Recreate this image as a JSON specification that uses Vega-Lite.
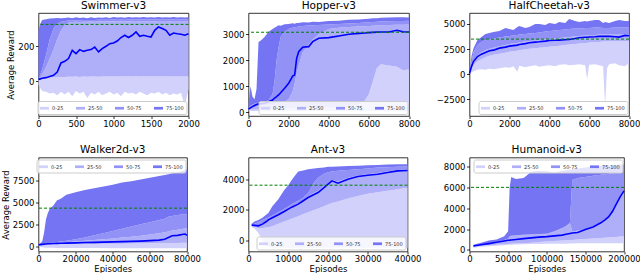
{
"$schema": "https://vega.github.io/schema/vega-lite/v6.json",
"background": "white",
"padding": {"left": 0.5, "top": 0, "right": 0, "bottom": 0},
"config": {
 "font": "DejaVu Sans",
 "view": {"stroke": "black", "strokeWidth": 0.8},
 "axis": {"domain": false, "grid": false, "tickColor": "black", "tickWidth": 0.8, "labelFont": "DejaVu Sans", "labelFontSize": 8.5, "labelColor": "black", "labelFlush": false, "labelOverlap": false, "titleFont": "DejaVu Sans", "titleFontSize": 8.5, "titleFontWeight": "normal", "titleColor": "black"},
 "axisX": {"tickSize": 2.5, "labelPadding": 0.5, "titlePadding": 1},
 "axisY": {"tickSize": 3, "labelPadding": 1.5, "titlePadding": 2},
 "title": {"font": "DejaVu Sans", "fontSize": 10.5, "fontWeight": "normal", "color": "black", "offset": 2},
 "legend": {"labelFont": "DejaVu Sans", "labelFontSize": 5, "labelColor": "#333333", "symbolType": "M-1,-0.3H1V0.3H-1Z", "symbolSize": 81, "symbolStrokeWidth": 0, "symbolOpacity": 1, "columnPadding": 12, "padding": 2.5, "offset": 2, "fillColor": "rgba(255,255,255,0.8)", "strokeColor": "#cccccc", "cornerRadius": 2, "labelOffset": 3, "direction": "horizontal"}
},
"datasets": {
 "targets": [{"env": "Swimmer-v3", "target": 325}, {"env": "Hopper-v3", "target": 3080}, {"env": "HalfCheetah-v3", "target": 3500}, {"env": "Walker2d-v3", "target": 4390}, {"env": "Ant-v3", "target": 3610}, {"env": "Humanoid-v3", "target": 6000}],
 "swimmer": [
  {"x":0,"b0":-20,"b1":10,"b2":12,"b3":15,"b4":290,"m":11},
  {"x":25,"b0":-40,"b1":15,"b2":25,"b3":40,"b4":330,"m":14},
  {"x":50,"b0":-55,"b1":18,"b2":40,"b3":70,"b4":350,"m":17},
  {"x":100,"b0":-60,"b1":20,"b2":80,"b3":150,"b4":355,"m":21},
  {"x":150,"b0":-70,"b1":22,"b2":130,"b3":240,"b4":358,"m":28},
  {"x":200,"b0":-65,"b1":22,"b2":180,"b3":300,"b4":360,"m":34},
  {"x":250,"b0":-80,"b1":24,"b2":240,"b3":330,"b4":362,"m":53},
  {"x":300,"b0":-60,"b1":25,"b2":290,"b3":340,"b4":360,"m":105},
  {"x":350,"b0":-75,"b1":25,"b2":320,"b3":345,"b4":362,"m":114},
  {"x":400,"b0":-60,"b1":26,"b2":335,"b3":347,"b4":365,"m":130},
  {"x":450,"b0":-85,"b1":26,"b2":338,"b3":348,"b4":360,"m":177},
  {"x":500,"b0":-55,"b1":27,"b2":340,"b3":349,"b4":366,"m":158},
  {"x":550,"b0":-70,"b1":25,"b2":338,"b3":348,"b4":362,"m":181},
  {"x":600,"b0":-60,"b1":28,"b2":340,"b3":350,"b4":364,"m":171},
  {"x":650,"b0":-95,"b1":26,"b2":340,"b3":350,"b4":360,"m":177},
  {"x":700,"b0":-65,"b1":28,"b2":341,"b3":350,"b4":366,"m":181},
  {"x":750,"b0":-75,"b1":27,"b2":340,"b3":350,"b4":362,"m":196},
  {"x":800,"b0":-60,"b1":26,"b2":342,"b3":352,"b4":365,"m":168},
  {"x":850,"b0":-80,"b1":28,"b2":341,"b3":351,"b4":363,"m":187},
  {"x":900,"b0":-70,"b1":27,"b2":342,"b3":352,"b4":366,"m":200},
  {"x":950,"b0":-60,"b1":28,"b2":341,"b3":351,"b4":362,"m":215},
  {"x":1000,"b0":-75,"b1":27,"b2":343,"b3":353,"b4":367,"m":219},
  {"x":1050,"b0":-65,"b1":28,"b2":342,"b3":352,"b4":364,"m":230},
  {"x":1100,"b0":-85,"b1":29,"b2":343,"b3":353,"b4":366,"m":250},
  {"x":1150,"b0":-60,"b1":28,"b2":342,"b3":352,"b4":363,"m":263},
  {"x":1200,"b0":-70,"b1":29,"b2":343,"b3":353,"b4":367,"m":250},
  {"x":1250,"b0":-65,"b1":28,"b2":343,"b3":353,"b4":365,"m":263},
  {"x":1300,"b0":-75,"b1":29,"b2":344,"b3":354,"b4":366,"m":282},
  {"x":1350,"b0":-60,"b1":28,"b2":343,"b3":353,"b4":364,"m":257},
  {"x":1400,"b0":-70,"b1":29,"b2":344,"b3":354,"b4":367,"m":263},
  {"x":1450,"b0":-80,"b1":28,"b2":343,"b3":353,"b4":365,"m":257},
  {"x":1500,"b0":-65,"b1":29,"b2":344,"b3":354,"b4":366,"m":253},
  {"x":1550,"b0":-70,"b1":28,"b2":343,"b3":353,"b4":364,"m":291},
  {"x":1600,"b0":-60,"b1":29,"b2":344,"b3":354,"b4":367,"m":310},
  {"x":1650,"b0":-75,"b1":28,"b2":344,"b3":354,"b4":365,"m":301},
  {"x":1700,"b0":-65,"b1":29,"b2":344,"b3":354,"b4":366,"m":291},
  {"x":1750,"b0":-80,"b1":28,"b2":343,"b3":353,"b4":364,"m":263},
  {"x":1800,"b0":-70,"b1":29,"b2":344,"b3":354,"b4":367,"m":276},
  {"x":1850,"b0":-75,"b1":28,"b2":344,"b3":354,"b4":365,"m":272},
  {"x":1900,"b0":-65,"b1":29,"b2":344,"b3":354,"b4":366,"m":269},
  {"x":1950,"b0":-140,"b1":28,"b2":343,"b3":353,"b4":364,"m":263},
  {"x":2000,"b0":-45,"b1":29,"b2":344,"b3":354,"b4":366,"m":272}
 ],
 "hopper": [
  {"x":0,"b0":80,"b1":100,"b2":120,"b3":150,"b4":300,"m":128},
  {"x":100,"b0":60,"b1":100,"b2":150,"b3":250,"b4":1000,"m":170},
  {"x":200,"b0":50,"b1":100,"b2":180,"b3":300,"b4":600,"m":218},
  {"x":300,"b0":50,"b1":100,"b2":200,"b3":330,"b4":500,"m":260},
  {"x":400,"b0":50,"b1":110,"b2":220,"b3":350,"b4":900,"m":300},
  {"x":500,"b0":50,"b1":110,"b2":240,"b3":370,"b4":2700,"m":320},
  {"x":600,"b0":50,"b1":110,"b2":250,"b3":380,"b4":2750,"m":330},
  {"x":800,"b0":50,"b1":120,"b2":270,"b3":420,"b4":2900,"m":346},
  {"x":1000,"b0":50,"b1":120,"b2":300,"b3":450,"b4":3100,"m":410},
  {"x":1200,"b0":50,"b1":130,"b2":320,"b3":700,"b4":3200,"m":474},
  {"x":1300,"b0":50,"b1":130,"b2":330,"b3":1200,"b4":3250,"m":550},
  {"x":1400,"b0":50,"b1":130,"b2":340,"b3":2000,"b4":3300,"m":600},
  {"x":1500,"b0":50,"b1":140,"b2":350,"b3":2500,"b4":3350,"m":667},
  {"x":1600,"b0":50,"b1":140,"b2":370,"b3":2900,"b4":3330,"m":750},
  {"x":1800,"b0":50,"b1":150,"b2":420,"b3":3100,"b4":3390,"m":923},
  {"x":2000,"b0":50,"b1":150,"b2":500,"b3":3200,"b4":3400,"m":1115},
  {"x":2200,"b0":50,"b1":150,"b2":800,"b3":3250,"b4":3430,"m":1397},
  {"x":2300,"b0":50,"b1":160,"b2":1100,"b3":3270,"b4":3410,"m":1435},
  {"x":2400,"b0":50,"b1":160,"b2":1500,"b3":3280,"b4":3440,"m":2077},
  {"x":2500,"b0":50,"b1":160,"b2":1800,"b3":3300,"b4":3440,"m":2333},
  {"x":2700,"b0":50,"b1":170,"b2":2300,"b3":3320,"b4":3460,"m":2500},
  {"x":3000,"b0":50,"b1":170,"b2":2600,"b3":3340,"b4":3450,"m":2525},
  {"x":3200,"b0":50,"b1":180,"b2":2800,"b3":3350,"b4":3480,"m":2718},
  {"x":3500,"b0":50,"b1":180,"b2":3000,"b3":3360,"b4":3470,"m":2846},
  {"x":4000,"b0":50,"b1":190,"b2":3200,"b3":3380,"b4":3510,"m":2872},
  {"x":4500,"b0":50,"b1":200,"b2":3250,"b3":3400,"b4":3520,"m":2936},
  {"x":5000,"b0":50,"b1":200,"b2":3280,"b3":3420,"b4":3560,"m":3000},
  {"x":5500,"b0":50,"b1":300,"b2":3300,"b3":3440,"b4":3570,"m":3038},
  {"x":5800,"b0":50,"b1":450,"b2":3310,"b3":3450,"b4":3590,"m":3050},
  {"x":6000,"b0":50,"b1":700,"b2":3320,"b3":3460,"b4":3600,"m":3064},
  {"x":6200,"b0":50,"b1":1200,"b2":3330,"b3":3470,"b4":3620,"m":3075},
  {"x":6400,"b0":50,"b1":1700,"b2":3340,"b3":3480,"b4":3620,"m":3085},
  {"x":6600,"b0":50,"b1":1850,"b2":3350,"b3":3490,"b4":3640,"m":3090},
  {"x":7000,"b0":50,"b1":1800,"b2":3360,"b3":3500,"b4":3650,"m":3090},
  {"x":7400,"b0":50,"b1":1750,"b2":3370,"b3":3510,"b4":3660,"m":3153},
  {"x":7700,"b0":50,"b1":1620,"b2":3370,"b3":3510,"b4":3660,"m":3100},
  {"x":8000,"b0":50,"b1":1650,"b2":3380,"b3":3520,"b4":3650,"m":3090}
 ],
 "cheetah": [
  {"x":0,"b0":0,"b1":30,"b2":50,"b3":70,"b4":100,"m":67},
  {"x":100,"b0":200,"b1":500,"b2":700,"b3":1200,"b4":1800,"m":767},
  {"x":200,"b0":300,"b1":900,"b2":1300,"b3":2200,"b4":2600,"m":1267},
  {"x":400,"b0":450,"b1":1300,"b2":1900,"b3":2900,"b4":3400,"m":1767},
  {"x":600,"b0":500,"b1":1500,"b2":2200,"b3":3200,"b4":3700,"m":2000},
  {"x":800,"b0":450,"b1":1700,"b2":2400,"b3":3400,"b4":4000,"m":2167},
  {"x":1000,"b0":550,"b1":1850,"b2":2550,"b3":3500,"b4":4100,"m":2333},
  {"x":1200,"b0":500,"b1":1950,"b2":2650,"b3":3550,"b4":4200,"m":2400},
  {"x":1500,"b0":600,"b1":2050,"b2":2800,"b3":3650,"b4":4300,"m":2600},
  {"x":1800,"b0":700,"b1":2150,"b2":2900,"b3":3750,"b4":4600,"m":2700},
  {"x":2000,"b0":650,"b1":2250,"b2":3000,"b3":3800,"b4":4500,"m":2800},
  {"x":2200,"b0":800,"b1":2300,"b2":3050,"b3":3850,"b4":4400,"m":2850},
  {"x":2400,"b0":250,"b1":2350,"b2":3100,"b3":3900,"b4":4700,"m":2900},
  {"x":2500,"b0":850,"b1":2400,"b2":3150,"b3":3950,"b4":4800,"m":2967},
  {"x":2800,"b0":700,"b1":2500,"b2":3250,"b3":4000,"b4":4600,"m":3050},
  {"x":3000,"b0":800,"b1":2550,"b2":3300,"b3":4050,"b4":4700,"m":3133},
  {"x":3300,"b0":900,"b1":2600,"b2":3350,"b3":4100,"b4":5000,"m":3200},
  {"x":3500,"b0":750,"b1":2650,"b2":3400,"b3":4150,"b4":5000,"m":3233},
  {"x":3800,"b0":850,"b1":2700,"b2":3450,"b3":4250,"b4":4900,"m":3300},
  {"x":4000,"b0":900,"b1":2750,"b2":3500,"b3":4300,"b4":5100,"m":3367},
  {"x":4300,"b0":800,"b1":2800,"b2":3550,"b3":4350,"b4":5000,"m":3380},
  {"x":4500,"b0":950,"b1":2850,"b2":3600,"b3":4400,"b4":5200,"m":3400},
  {"x":4800,"b0":1000,"b1":2900,"b2":3650,"b3":4450,"b4":5100,"m":3440},
  {"x":5000,"b0":900,"b1":2950,"b2":3700,"b3":4500,"b4":5500,"m":3467},
  {"x":5300,"b0":950,"b1":3000,"b2":3750,"b3":4550,"b4":5300,"m":3550},
  {"x":5500,"b0":1000,"b1":3050,"b2":3800,"b3":4550,"b4":5200,"m":3633},
  {"x":5800,"b0":900,"b1":3100,"b2":3850,"b3":4600,"b4":5300,"m":3680},
  {"x":5900,"b0":-500,"b1":3100,"b2":3850,"b3":4600,"b4":5250,"m":3690},
  {"x":6000,"b0":950,"b1":3150,"b2":3900,"b3":4600,"b4":5300,"m":3700},
  {"x":6300,"b0":1000,"b1":3200,"b2":3900,"b3":4650,"b4":5400,"m":3730},
  {"x":6500,"b0":900,"b1":3200,"b2":3950,"b3":4650,"b4":5400,"m":3767},
  {"x":6700,"b0":800,"b1":3250,"b2":3950,"b3":4600,"b4":5100,"m":3767},
  {"x":6800,"b0":-3100,"b1":3250,"b2":3950,"b3":4600,"b4":5200,"m":3767},
  {"x":6900,"b0":600,"b1":3250,"b2":3950,"b3":4600,"b4":5150,"m":3767},
  {"x":7000,"b0":1000,"b1":3250,"b2":3950,"b3":4600,"b4":5100,"m":3767},
  {"x":7300,"b0":1100,"b1":3300,"b2":4000,"b3":4650,"b4":5300,"m":3730},
  {"x":7500,"b0":900,"b1":3300,"b2":4000,"b3":4650,"b4":5400,"m":3700},
  {"x":7800,"b0":800,"b1":3300,"b2":4000,"b3":4650,"b4":5300,"m":3867},
  {"x":8000,"b0":1100,"b1":3300,"b2":4000,"b3":4650,"b4":5300,"m":3833}
 ],
 "walker": [
  {"x":0,"b0":50,"b1":150,"b2":220,"b3":250,"b4":300,"m":200},
  {"x":1000,"b0":0,"b1":200,"b2":280,"b3":300,"b4":400,"m":250},
  {"x":2000,"b0":-50,"b1":220,"b2":320,"b3":350,"b4":600,"m":280},
  {"x":3000,"b0":-80,"b1":230,"b2":340,"b3":380,"b4":1600,"m":300},
  {"x":4000,"b0":-100,"b1":240,"b2":360,"b3":400,"b4":3100,"m":320},
  {"x":5000,"b0":-100,"b1":250,"b2":380,"b3":420,"b4":3800,"m":340},
  {"x":6000,"b0":-120,"b1":250,"b2":390,"b3":430,"b4":4300,"m":350},
  {"x":8000,"b0":-120,"b1":260,"b2":420,"b3":480,"b4":4700,"m":370},
  {"x":10000,"b0":-130,"b1":270,"b2":450,"b3":550,"b4":5300,"m":390},
  {"x":12000,"b0":-130,"b1":280,"b2":480,"b3":600,"b4":5450,"m":400},
  {"x":15000,"b0":-140,"b1":290,"b2":530,"b3":700,"b4":5900,"m":420},
  {"x":20000,"b0":-140,"b1":300,"b2":600,"b3":850,"b4":6200,"m":450},
  {"x":25000,"b0":-150,"b1":320,"b2":680,"b3":1050,"b4":6450,"m":480},
  {"x":30000,"b0":-150,"b1":330,"b2":760,"b3":1300,"b4":6650,"m":500},
  {"x":35000,"b0":-150,"b1":340,"b2":850,"b3":1550,"b4":6850,"m":530},
  {"x":40000,"b0":-160,"b1":350,"b2":950,"b3":1800,"b4":7050,"m":560},
  {"x":45000,"b0":-160,"b1":360,"b2":1050,"b3":2050,"b4":7300,"m":590},
  {"x":50000,"b0":-160,"b1":370,"b2":1150,"b3":2300,"b4":7450,"m":620},
  {"x":55000,"b0":-170,"b1":380,"b2":1250,"b3":2550,"b4":7650,"m":650},
  {"x":60000,"b0":-170,"b1":390,"b2":1400,"b3":2800,"b4":7850,"m":700},
  {"x":65000,"b0":-170,"b1":400,"b2":1550,"b3":3050,"b4":8050,"m":760},
  {"x":68000,"b0":-170,"b1":410,"b2":1650,"b3":3200,"b4":8150,"m":850},
  {"x":70000,"b0":-170,"b1":420,"b2":1750,"b3":3400,"b4":8250,"m":1050},
  {"x":72000,"b0":-170,"b1":430,"b2":1850,"b3":3500,"b4":8350,"m":1250},
  {"x":75000,"b0":-170,"b1":440,"b2":1950,"b3":3600,"b4":8450,"m":1300},
  {"x":78000,"b0":-170,"b1":450,"b2":2050,"b3":3700,"b4":8650,"m":1420},
  {"x":79000,"b0":-170,"b1":450,"b2":2100,"b3":3700,"b4":8750,"m":1450},
  {"x":80000,"b0":-170,"b1":450,"b2":2100,"b3":3700,"b4":8800,"m":1300}
 ],
 "ant": [
  {"x":800,"b0":900,"b1":950,"b2":1000,"b3":1050,"b4":1100,"m":1016},
  {"x":1500,"b0":800,"b1":900,"b2":1000,"b3":1100,"b4":1250,"m":1000},
  {"x":2500,"b0":500,"b1":820,"b2":1000,"b3":1200,"b4":1350,"m":973},
  {"x":3500,"b0":0,"b1":830,"b2":1120,"b3":1350,"b4":1500,"m":1081},
  {"x":4500,"b0":-300,"b1":860,"b2":1270,"b3":1450,"b4":1700,"m":1250},
  {"x":5000,"b0":-400,"b1":880,"b2":1380,"b3":1520,"b4":1800,"m":1362},
  {"x":6000,"b0":-450,"b1":950,"b2":1520,"b3":1650,"b4":2250,"m":1500},
  {"x":7500,"b0":-450,"b1":1100,"b2":1720,"b3":1850,"b4":2700,"m":1686},
  {"x":9000,"b0":-450,"b1":1250,"b2":1950,"b3":2080,"b4":3300,"m":1900},
  {"x":10000,"b0":-450,"b1":1350,"b2":2100,"b3":2230,"b4":3600,"m":2054},
  {"x":11000,"b0":-450,"b1":1450,"b2":2250,"b3":2400,"b4":4000,"m":2200},
  {"x":12500,"b0":-450,"b1":1600,"b2":2430,"b3":2600,"b4":4500,"m":2378},
  {"x":13500,"b0":-450,"b1":1700,"b2":2600,"b3":2750,"b4":4550,"m":2550},
  {"x":15000,"b0":-450,"b1":1850,"b2":2880,"b3":3100,"b4":4650,"m":2811},
  {"x":16500,"b0":-450,"b1":2000,"b2":3100,"b3":3800,"b4":4700,"m":3000},
  {"x":17500,"b0":-450,"b1":2100,"b2":3250,"b3":4100,"b4":4720,"m":3135},
  {"x":19000,"b0":-450,"b1":2250,"b2":3550,"b3":4350,"b4":4750,"m":3450},
  {"x":20000,"b0":-450,"b1":2350,"b2":3750,"b3":4450,"b4":4800,"m":3676},
  {"x":21000,"b0":-450,"b1":2450,"b2":3950,"b3":4500,"b4":4800,"m":3892},
  {"x":22500,"b0":-450,"b1":2550,"b2":3850,"b3":4550,"b4":4820,"m":3740},
  {"x":25000,"b0":-450,"b1":2750,"b2":4080,"b3":4600,"b4":4850,"m":4000},
  {"x":27500,"b0":-450,"b1":2900,"b2":4230,"b3":4650,"b4":4870,"m":4173},
  {"x":30000,"b0":-450,"b1":3050,"b2":4320,"b3":4700,"b4":4900,"m":4259},
  {"x":32500,"b0":-450,"b1":3150,"b2":4400,"b3":4750,"b4":4920,"m":4324},
  {"x":35000,"b0":-450,"b1":3250,"b2":4500,"b3":4780,"b4":4950,"m":4432},
  {"x":37500,"b0":-450,"b1":3350,"b2":4600,"b3":4800,"b4":4960,"m":4540},
  {"x":40000,"b0":-450,"b1":3450,"b2":4620,"b3":4820,"b4":4970,"m":4562}
 ],
 "humanoid": [
  {"x":5000,"b0":200,"b1":300,"b2":380,"b3":420,"b4":500,"m":384},
  {"x":15000,"b0":300,"b1":400,"b2":480,"b3":520,"b4":700,"m":500},
  {"x":25000,"b0":350,"b1":450,"b2":580,"b3":650,"b4":900,"m":608},
  {"x":35000,"b0":400,"b1":500,"b2":700,"b3":780,"b4":1000,"m":730},
  {"x":45000,"b0":450,"b1":550,"b2":850,"b3":950,"b4":1300,"m":860},
  {"x":50000,"b0":500,"b1":580,"b2":1000,"b3":1100,"b4":1800,"m":928},
  {"x":52000,"b0":500,"b1":590,"b2":1250,"b3":1300,"b4":6000,"m":940},
  {"x":54000,"b0":500,"b1":600,"b2":1300,"b3":1350,"b4":7000,"m":960},
  {"x":60000,"b0":520,"b1":620,"b2":1350,"b3":1400,"b4":6800,"m":1000},
  {"x":70000,"b0":550,"b1":650,"b2":1400,"b3":1450,"b4":6900,"m":1080},
  {"x":80000,"b0":560,"b1":700,"b2":1450,"b3":1500,"b4":7500,"m":1160},
  {"x":90000,"b0":580,"b1":750,"b2":1470,"b3":1520,"b4":7600,"m":1230},
  {"x":100000,"b0":600,"b1":800,"b2":1500,"b3":1550,"b4":7550,"m":1280},
  {"x":110000,"b0":600,"b1":850,"b2":1750,"b3":1800,"b4":7400,"m":1350},
  {"x":120000,"b0":600,"b1":900,"b2":2050,"b3":2100,"b4":7600,"m":1420},
  {"x":125000,"b0":600,"b1":920,"b2":2250,"b3":2300,"b4":7650,"m":1504},
  {"x":130000,"b0":620,"b1":950,"b2":2550,"b3":2600,"b4":7700,"m":1580},
  {"x":133000,"b0":620,"b1":960,"b2":1800,"b3":6700,"b4":7750,"m":1620},
  {"x":140000,"b0":630,"b1":1000,"b2":1850,"b3":6900,"b4":7800,"m":1664},
  {"x":150000,"b0":650,"b1":1050,"b2":1990,"b3":7000,"b4":7900,"m":1952},
  {"x":160000,"b0":650,"b1":1100,"b2":2250,"b3":7100,"b4":8000,"m":2208},
  {"x":170000,"b0":650,"b1":1150,"b2":2620,"b3":7200,"b4":8050,"m":2600},
  {"x":175000,"b0":650,"b1":1170,"b2":2890,"b3":7250,"b4":8100,"m":2848},
  {"x":180000,"b0":650,"b1":1200,"b2":3210,"b3":7300,"b4":8100,"m":3168},
  {"x":185000,"b0":650,"b1":1220,"b2":3720,"b3":7350,"b4":8150,"m":3680},
  {"x":190000,"b0":650,"b1":1250,"b2":4420,"b3":7400,"b4":8150,"m":4384},
  {"x":195000,"b0":650,"b1":1280,"b2":5120,"b3":7450,"b4":8200,"m":5088},
  {"x":200000,"b0":650,"b1":1300,"b2":5700,"b3":7500,"b4":8200,"m":5664}
 ]
},
"concat": [
  {"width": 150, "height": 103, "title": "Swimmer-v3", "data": {"name": "swimmer"},
   "layer": [
    {"mark": {"type": "area", "opacity": 1}, "encoding": {
      "x": {"field": "x", "type": "quantitative", "scale": {"domain": [0, 2000], "nice": false, "zero": false}, "axis": {"values": [0, 500, 1000, 1500, 2000], "format": "d", "title": null}},
      "y": {"field": "b0", "type": "quantitative", "scale": {"domain": [-198, 390], "nice": false, "zero": false}, "axis": {"values": [0, 200], "format": "d", "title": "Average Reward"}},
      "y2": {"field": "b1"},
      "fill": {"datum": "0-25", "type": "nominal", "scale": {"domain": ["0-25", "25-50", "50-75", "75-100"], "range": ["#d1d1fb", "#afaff9", "#9292f6", "#7575f3"]}, "legend": {"title": null, "orient": "bottom-right"}}}},
    {"mark": {"type": "area", "opacity": 1}, "encoding": {
      "x": {"field": "x", "type": "quantitative", "scale": {"domain": [0, 2000], "nice": false, "zero": false}, "axis": {"values": [0, 500, 1000, 1500, 2000], "format": "d", "title": null}},
      "y": {"field": "b1", "type": "quantitative", "scale": {"domain": [-198, 390], "nice": false, "zero": false}, "axis": {"values": [0, 200], "format": "d", "title": "Average Reward"}},
      "y2": {"field": "b2"},
      "fill": {"datum": "25-50", "type": "nominal", "scale": {"domain": ["0-25", "25-50", "50-75", "75-100"], "range": ["#d1d1fb", "#afaff9", "#9292f6", "#7575f3"]}, "legend": {"title": null, "orient": "bottom-right"}}}},
    {"mark": {"type": "area", "opacity": 1}, "encoding": {
      "x": {"field": "x", "type": "quantitative", "scale": {"domain": [0, 2000], "nice": false, "zero": false}, "axis": {"values": [0, 500, 1000, 1500, 2000], "format": "d", "title": null}},
      "y": {"field": "b2", "type": "quantitative", "scale": {"domain": [-198, 390], "nice": false, "zero": false}, "axis": {"values": [0, 200], "format": "d", "title": "Average Reward"}},
      "y2": {"field": "b3"},
      "fill": {"datum": "50-75", "type": "nominal", "scale": {"domain": ["0-25", "25-50", "50-75", "75-100"], "range": ["#d1d1fb", "#afaff9", "#9292f6", "#7575f3"]}, "legend": {"title": null, "orient": "bottom-right"}}}},
    {"mark": {"type": "area", "opacity": 1}, "encoding": {
      "x": {"field": "x", "type": "quantitative", "scale": {"domain": [0, 2000], "nice": false, "zero": false}, "axis": {"values": [0, 500, 1000, 1500, 2000], "format": "d", "title": null}},
      "y": {"field": "b3", "type": "quantitative", "scale": {"domain": [-198, 390], "nice": false, "zero": false}, "axis": {"values": [0, 200], "format": "d", "title": "Average Reward"}},
      "y2": {"field": "b4"},
      "fill": {"datum": "75-100", "type": "nominal", "scale": {"domain": ["0-25", "25-50", "50-75", "75-100"], "range": ["#d1d1fb", "#afaff9", "#9292f6", "#7575f3"]}, "legend": {"title": null, "orient": "bottom-right"}}}},
    {"mark": {"type": "line", "color": "#0000ff", "strokeWidth": 1.6}, "encoding": {
      "x": {"field": "x", "type": "quantitative", "scale": {"domain": [0, 2000], "nice": false, "zero": false}, "axis": {"values": [0, 500, 1000, 1500, 2000], "format": "d", "title": null}},
      "y": {"field": "m", "type": "quantitative", "scale": {"domain": [-198, 390], "nice": false, "zero": false}, "axis": {"values": [0, 200], "format": "d", "title": "Average Reward"}}}},
    {"data": {"name": "targets"}, "transform": [{"filter": "datum.env === 'Swimmer-v3'"}], "mark": {"type": "rule", "color": "#008000", "strokeDash": [3, 2], "strokeWidth": 1}, "encoding": {
      "y": {"field": "target", "type": "quantitative", "scale": {"domain": [-198, 390], "nice": false, "zero": false}, "axis": {"values": [0, 200], "format": "d", "title": "Average Reward"}}}}
   ]},
   {"width": 160.5, "height": 103, "title": "Hopper-v3", "data": {"name": "hopper"},
    "layer": [
     {"mark": {"type": "area", "opacity": 1}, "encoding": {
       "x": {"field": "x", "type": "quantitative", "scale": {"domain": [0, 8000], "nice": false, "zero": false}, "axis": {"values": [0, 2000, 4000, 6000, 8000], "format": "d", "title": null}},
       "y": {"field": "b0", "type": "quantitative", "scale": {"domain": [-142, 3820], "nice": false, "zero": false}, "axis": {"values": [0, 1000, 2000, 3000], "format": "d", "title": null}},
       "y2": {"field": "b1"},
       "fill": {"datum": "0-25", "type": "nominal", "scale": {"domain": ["0-25", "25-50", "50-75", "75-100"], "range": ["#d1d1fb", "#afaff9", "#9292f6", "#7575f3"]}, "legend": {"title": null, "orient": "bottom-right"}}}},
     {"mark": {"type": "area", "opacity": 1}, "encoding": {
       "x": {"field": "x", "type": "quantitative", "scale": {"domain": [0, 8000], "nice": false, "zero": false}, "axis": {"values": [0, 2000, 4000, 6000, 8000], "format": "d", "title": null}},
       "y": {"field": "b1", "type": "quantitative", "scale": {"domain": [-142, 3820], "nice": false, "zero": false}, "axis": {"values": [0, 1000, 2000, 3000], "format": "d", "title": null}},
       "y2": {"field": "b2"},
       "fill": {"datum": "25-50", "type": "nominal", "scale": {"domain": ["0-25", "25-50", "50-75", "75-100"], "range": ["#d1d1fb", "#afaff9", "#9292f6", "#7575f3"]}, "legend": {"title": null, "orient": "bottom-right"}}}},
     {"mark": {"type": "area", "opacity": 1}, "encoding": {
       "x": {"field": "x", "type": "quantitative", "scale": {"domain": [0, 8000], "nice": false, "zero": false}, "axis": {"values": [0, 2000, 4000, 6000, 8000], "format": "d", "title": null}},
       "y": {"field": "b2", "type": "quantitative", "scale": {"domain": [-142, 3820], "nice": false, "zero": false}, "axis": {"values": [0, 1000, 2000, 3000], "format": "d", "title": null}},
       "y2": {"field": "b3"},
       "fill": {"datum": "50-75", "type": "nominal", "scale": {"domain": ["0-25", "25-50", "50-75", "75-100"], "range": ["#d1d1fb", "#afaff9", "#9292f6", "#7575f3"]}, "legend": {"title": null, "orient": "bottom-right"}}}},
     {"mark": {"type": "area", "opacity": 1}, "encoding": {
       "x": {"field": "x", "type": "quantitative", "scale": {"domain": [0, 8000], "nice": false, "zero": false}, "axis": {"values": [0, 2000, 4000, 6000, 8000], "format": "d", "title": null}},
       "y": {"field": "b3", "type": "quantitative", "scale": {"domain": [-142, 3820], "nice": false, "zero": false}, "axis": {"values": [0, 1000, 2000, 3000], "format": "d", "title": null}},
       "y2": {"field": "b4"},
       "fill": {"datum": "75-100", "type": "nominal", "scale": {"domain": ["0-25", "25-50", "50-75", "75-100"], "range": ["#d1d1fb", "#afaff9", "#9292f6", "#7575f3"]}, "legend": {"title": null, "orient": "bottom-right"}}}},
     {"mark": {"type": "line", "color": "#0000ff", "strokeWidth": 1.6}, "encoding": {
       "x": {"field": "x", "type": "quantitative", "scale": {"domain": [0, 8000], "nice": false, "zero": false}, "axis": {"values": [0, 2000, 4000, 6000, 8000], "format": "d", "title": null}},
       "y": {"field": "m", "type": "quantitative", "scale": {"domain": [-142, 3820], "nice": false, "zero": false}, "axis": {"values": [0, 1000, 2000, 3000], "format": "d", "title": null}}}},
     {"data": {"name": "targets"}, "transform": [{"filter": "datum.env === 'Hopper-v3'"}], "mark": {"type": "rule", "color": "#008000", "strokeDash": [3, 2], "strokeWidth": 1}, "encoding": {
       "y": {"field": "target", "type": "quantitative", "scale": {"domain": [-142, 3820], "nice": false, "zero": false}, "axis": {"values": [0, 1000, 2000, 3000], "format": "d", "title": null}}}}
    ]},
   {"width": 159.5, "height": 103, "title": "HalfCheetah-v3", "data": {"name": "cheetah"},
    "layer": [
     {"mark": {"type": "area", "opacity": 1}, "encoding": {
       "x": {"field": "x", "type": "quantitative", "scale": {"domain": [0, 8000], "nice": false, "zero": false}, "axis": {"values": [0, 2000, 4000, 6000, 8000], "format": "d", "title": null}},
       "y": {"field": "b0", "type": "quantitative", "scale": {"domain": [-4145, 6093], "nice": false, "zero": false}, "axis": {"values": [-2500, 0, 2500, 5000], "format": "d", "title": null}},
       "y2": {"field": "b1"},
       "fill": {"datum": "0-25", "type": "nominal", "scale": {"domain": ["0-25", "25-50", "50-75", "75-100"], "range": ["#d1d1fb", "#afaff9", "#9292f6", "#7575f3"]}, "legend": {"title": null, "orient": "bottom-right"}}}},
     {"mark": {"type": "area", "opacity": 1}, "encoding": {
       "x": {"field": "x", "type": "quantitative", "scale": {"domain": [0, 8000], "nice": false, "zero": false}, "axis": {"values": [0, 2000, 4000, 6000, 8000], "format": "d", "title": null}},
       "y": {"field": "b1", "type": "quantitative", "scale": {"domain": [-4145, 6093], "nice": false, "zero": false}, "axis": {"values": [-2500, 0, 2500, 5000], "format": "d", "title": null}},
       "y2": {"field": "b2"},
       "fill": {"datum": "25-50", "type": "nominal", "scale": {"domain": ["0-25", "25-50", "50-75", "75-100"], "range": ["#d1d1fb", "#afaff9", "#9292f6", "#7575f3"]}, "legend": {"title": null, "orient": "bottom-right"}}}},
     {"mark": {"type": "area", "opacity": 1}, "encoding": {
       "x": {"field": "x", "type": "quantitative", "scale": {"domain": [0, 8000], "nice": false, "zero": false}, "axis": {"values": [0, 2000, 4000, 6000, 8000], "format": "d", "title": null}},
       "y": {"field": "b2", "type": "quantitative", "scale": {"domain": [-4145, 6093], "nice": false, "zero": false}, "axis": {"values": [-2500, 0, 2500, 5000], "format": "d", "title": null}},
       "y2": {"field": "b3"},
       "fill": {"datum": "50-75", "type": "nominal", "scale": {"domain": ["0-25", "25-50", "50-75", "75-100"], "range": ["#d1d1fb", "#afaff9", "#9292f6", "#7575f3"]}, "legend": {"title": null, "orient": "bottom-right"}}}},
     {"mark": {"type": "area", "opacity": 1}, "encoding": {
       "x": {"field": "x", "type": "quantitative", "scale": {"domain": [0, 8000], "nice": false, "zero": false}, "axis": {"values": [0, 2000, 4000, 6000, 8000], "format": "d", "title": null}},
       "y": {"field": "b3", "type": "quantitative", "scale": {"domain": [-4145, 6093], "nice": false, "zero": false}, "axis": {"values": [-2500, 0, 2500, 5000], "format": "d", "title": null}},
       "y2": {"field": "b4"},
       "fill": {"datum": "75-100", "type": "nominal", "scale": {"domain": ["0-25", "25-50", "50-75", "75-100"], "range": ["#d1d1fb", "#afaff9", "#9292f6", "#7575f3"]}, "legend": {"title": null, "orient": "bottom-right"}}}},
     {"mark": {"type": "line", "color": "#0000ff", "strokeWidth": 1.6}, "encoding": {
       "x": {"field": "x", "type": "quantitative", "scale": {"domain": [0, 8000], "nice": false, "zero": false}, "axis": {"values": [0, 2000, 4000, 6000, 8000], "format": "d", "title": null}},
       "y": {"field": "m", "type": "quantitative", "scale": {"domain": [-4145, 6093], "nice": false, "zero": false}, "axis": {"values": [-2500, 0, 2500, 5000], "format": "d", "title": null}}}},
     {"data": {"name": "targets"}, "transform": [{"filter": "datum.env === 'HalfCheetah-v3'"}], "mark": {"type": "rule", "color": "#008000", "strokeDash": [3, 2], "strokeWidth": 1}, "encoding": {
       "y": {"field": "target", "type": "quantitative", "scale": {"domain": [-4145, 6093], "nice": false, "zero": false}, "axis": {"values": [-2500, 0, 2500, 5000], "format": "d", "title": null}}}}
    ]},
  {"width": 148.5, "height": 94, "title": "Walker2d-v3", "data": {"name": "walker"},
   "layer": [
    {"mark": {"type": "area", "opacity": 1}, "encoding": {
      "x": {"field": "x", "type": "quantitative", "scale": {"domain": [0, 80000], "nice": false, "zero": false}, "axis": {"values": [0, 20000, 40000, 60000, 80000], "format": "d", "title": "Episodes"}},
      "y": {"field": "b0", "type": "quantitative", "scale": {"domain": [-534, 10144], "nice": false, "zero": false}, "axis": {"values": [0, 2500, 5000, 7500], "format": "d", "title": "Average Reward"}},
      "y2": {"field": "b1"},
      "fill": {"datum": "0-25", "type": "nominal", "scale": {"domain": ["0-25", "25-50", "50-75", "75-100"], "range": ["#d1d1fb", "#afaff9", "#9292f6", "#7575f3"]}, "legend": {"title": null, "orient": "top-right"}}}},
    {"mark": {"type": "area", "opacity": 1}, "encoding": {
      "x": {"field": "x", "type": "quantitative", "scale": {"domain": [0, 80000], "nice": false, "zero": false}, "axis": {"values": [0, 20000, 40000, 60000, 80000], "format": "d", "title": "Episodes"}},
      "y": {"field": "b1", "type": "quantitative", "scale": {"domain": [-534, 10144], "nice": false, "zero": false}, "axis": {"values": [0, 2500, 5000, 7500], "format": "d", "title": "Average Reward"}},
      "y2": {"field": "b2"},
      "fill": {"datum": "25-50", "type": "nominal", "scale": {"domain": ["0-25", "25-50", "50-75", "75-100"], "range": ["#d1d1fb", "#afaff9", "#9292f6", "#7575f3"]}, "legend": {"title": null, "orient": "top-right"}}}},
    {"mark": {"type": "area", "opacity": 1}, "encoding": {
      "x": {"field": "x", "type": "quantitative", "scale": {"domain": [0, 80000], "nice": false, "zero": false}, "axis": {"values": [0, 20000, 40000, 60000, 80000], "format": "d", "title": "Episodes"}},
      "y": {"field": "b2", "type": "quantitative", "scale": {"domain": [-534, 10144], "nice": false, "zero": false}, "axis": {"values": [0, 2500, 5000, 7500], "format": "d", "title": "Average Reward"}},
      "y2": {"field": "b3"},
      "fill": {"datum": "50-75", "type": "nominal", "scale": {"domain": ["0-25", "25-50", "50-75", "75-100"], "range": ["#d1d1fb", "#afaff9", "#9292f6", "#7575f3"]}, "legend": {"title": null, "orient": "top-right"}}}},
    {"mark": {"type": "area", "opacity": 1}, "encoding": {
      "x": {"field": "x", "type": "quantitative", "scale": {"domain": [0, 80000], "nice": false, "zero": false}, "axis": {"values": [0, 20000, 40000, 60000, 80000], "format": "d", "title": "Episodes"}},
      "y": {"field": "b3", "type": "quantitative", "scale": {"domain": [-534, 10144], "nice": false, "zero": false}, "axis": {"values": [0, 2500, 5000, 7500], "format": "d", "title": "Average Reward"}},
      "y2": {"field": "b4"},
      "fill": {"datum": "75-100", "type": "nominal", "scale": {"domain": ["0-25", "25-50", "50-75", "75-100"], "range": ["#d1d1fb", "#afaff9", "#9292f6", "#7575f3"]}, "legend": {"title": null, "orient": "top-right"}}}},
    {"mark": {"type": "line", "color": "#0000ff", "strokeWidth": 1.6}, "encoding": {
      "x": {"field": "x", "type": "quantitative", "scale": {"domain": [0, 80000], "nice": false, "zero": false}, "axis": {"values": [0, 20000, 40000, 60000, 80000], "format": "d", "title": "Episodes"}},
      "y": {"field": "m", "type": "quantitative", "scale": {"domain": [-534, 10144], "nice": false, "zero": false}, "axis": {"values": [0, 2500, 5000, 7500], "format": "d", "title": "Average Reward"}}}},
    {"data": {"name": "targets"}, "transform": [{"filter": "datum.env === 'Walker2d-v3'"}], "mark": {"type": "rule", "color": "#008000", "strokeDash": [3, 2], "strokeWidth": 1}, "encoding": {
      "y": {"field": "target", "type": "quantitative", "scale": {"domain": [-534, 10144], "nice": false, "zero": false}, "axis": {"values": [0, 2500, 5000, 7500], "format": "d", "title": "Average Reward"}}}}
   ]},
  {"width": 159, "height": 94, "title": "Ant-v3", "data": {"name": "ant"},
   "layer": [
    {"mark": {"type": "area", "opacity": 1}, "encoding": {
      "x": {"field": "x", "type": "quantitative", "scale": {"domain": [0, 40000], "nice": false, "zero": false}, "axis": {"values": [0, 10000, 20000, 30000, 40000], "format": "d", "title": "Episodes"}},
      "y": {"field": "b0", "type": "quantitative", "scale": {"domain": [-694, 5406], "nice": false, "zero": false}, "axis": {"values": [0, 2000, 4000], "format": "d", "title": null}},
      "y2": {"field": "b1"},
      "fill": {"datum": "0-25", "type": "nominal", "scale": {"domain": ["0-25", "25-50", "50-75", "75-100"], "range": ["#d1d1fb", "#afaff9", "#9292f6", "#7575f3"]}, "legend": {"title": null, "orient": "bottom-right"}}}},
    {"mark": {"type": "area", "opacity": 1}, "encoding": {
      "x": {"field": "x", "type": "quantitative", "scale": {"domain": [0, 40000], "nice": false, "zero": false}, "axis": {"values": [0, 10000, 20000, 30000, 40000], "format": "d", "title": "Episodes"}},
      "y": {"field": "b1", "type": "quantitative", "scale": {"domain": [-694, 5406], "nice": false, "zero": false}, "axis": {"values": [0, 2000, 4000], "format": "d", "title": null}},
      "y2": {"field": "b2"},
      "fill": {"datum": "25-50", "type": "nominal", "scale": {"domain": ["0-25", "25-50", "50-75", "75-100"], "range": ["#d1d1fb", "#afaff9", "#9292f6", "#7575f3"]}, "legend": {"title": null, "orient": "bottom-right"}}}},
    {"mark": {"type": "area", "opacity": 1}, "encoding": {
      "x": {"field": "x", "type": "quantitative", "scale": {"domain": [0, 40000], "nice": false, "zero": false}, "axis": {"values": [0, 10000, 20000, 30000, 40000], "format": "d", "title": "Episodes"}},
      "y": {"field": "b2", "type": "quantitative", "scale": {"domain": [-694, 5406], "nice": false, "zero": false}, "axis": {"values": [0, 2000, 4000], "format": "d", "title": null}},
      "y2": {"field": "b3"},
      "fill": {"datum": "50-75", "type": "nominal", "scale": {"domain": ["0-25", "25-50", "50-75", "75-100"], "range": ["#d1d1fb", "#afaff9", "#9292f6", "#7575f3"]}, "legend": {"title": null, "orient": "bottom-right"}}}},
    {"mark": {"type": "area", "opacity": 1}, "encoding": {
      "x": {"field": "x", "type": "quantitative", "scale": {"domain": [0, 40000], "nice": false, "zero": false}, "axis": {"values": [0, 10000, 20000, 30000, 40000], "format": "d", "title": "Episodes"}},
      "y": {"field": "b3", "type": "quantitative", "scale": {"domain": [-694, 5406], "nice": false, "zero": false}, "axis": {"values": [0, 2000, 4000], "format": "d", "title": null}},
      "y2": {"field": "b4"},
      "fill": {"datum": "75-100", "type": "nominal", "scale": {"domain": ["0-25", "25-50", "50-75", "75-100"], "range": ["#d1d1fb", "#afaff9", "#9292f6", "#7575f3"]}, "legend": {"title": null, "orient": "bottom-right"}}}},
    {"mark": {"type": "line", "color": "#0000ff", "strokeWidth": 1.6}, "encoding": {
      "x": {"field": "x", "type": "quantitative", "scale": {"domain": [0, 40000], "nice": false, "zero": false}, "axis": {"values": [0, 10000, 20000, 30000, 40000], "format": "d", "title": "Episodes"}},
      "y": {"field": "m", "type": "quantitative", "scale": {"domain": [-694, 5406], "nice": false, "zero": false}, "axis": {"values": [0, 2000, 4000], "format": "d", "title": null}}}},
    {"data": {"name": "targets"}, "transform": [{"filter": "datum.env === 'Ant-v3'"}], "mark": {"type": "rule", "color": "#008000", "strokeDash": [3, 2], "strokeWidth": 1}, "encoding": {
      "y": {"field": "target", "type": "quantitative", "scale": {"domain": [-694, 5406], "nice": false, "zero": false}, "axis": {"values": [0, 2000, 4000], "format": "d", "title": null}}}}
   ]},
  {"width": 154.5, "height": 94, "title": "Humanoid-v3", "data": {"name": "humanoid"},
   "layer": [
    {"mark": {"type": "area", "opacity": 1}, "encoding": {
      "x": {"field": "x", "type": "quantitative", "scale": {"domain": [0, 200000], "nice": false, "zero": false}, "axis": {"values": [0, 50000, 100000, 150000, 200000], "format": "d", "title": "Episodes"}},
      "y": {"field": "b0", "type": "quantitative", "scale": {"domain": [-150, 8861], "nice": false, "zero": false}, "axis": {"values": [0, 2000, 4000, 6000, 8000], "format": "d", "title": null}},
      "y2": {"field": "b1"},
      "fill": {"datum": "0-25", "type": "nominal", "scale": {"domain": ["0-25", "25-50", "50-75", "75-100"], "range": ["#d1d1fb", "#afaff9", "#9292f6", "#7575f3"]}, "legend": {"title": null, "orient": "top-right"}}}},
    {"mark": {"type": "area", "opacity": 1}, "encoding": {
      "x": {"field": "x", "type": "quantitative", "scale": {"domain": [0, 200000], "nice": false, "zero": false}, "axis": {"values": [0, 50000, 100000, 150000, 200000], "format": "d", "title": "Episodes"}},
      "y": {"field": "b1", "type": "quantitative", "scale": {"domain": [-150, 8861], "nice": false, "zero": false}, "axis": {"values": [0, 2000, 4000, 6000, 8000], "format": "d", "title": null}},
      "y2": {"field": "b2"},
      "fill": {"datum": "25-50", "type": "nominal", "scale": {"domain": ["0-25", "25-50", "50-75", "75-100"], "range": ["#d1d1fb", "#afaff9", "#9292f6", "#7575f3"]}, "legend": {"title": null, "orient": "top-right"}}}},
    {"mark": {"type": "area", "opacity": 1}, "encoding": {
      "x": {"field": "x", "type": "quantitative", "scale": {"domain": [0, 200000], "nice": false, "zero": false}, "axis": {"values": [0, 50000, 100000, 150000, 200000], "format": "d", "title": "Episodes"}},
      "y": {"field": "b2", "type": "quantitative", "scale": {"domain": [-150, 8861], "nice": false, "zero": false}, "axis": {"values": [0, 2000, 4000, 6000, 8000], "format": "d", "title": null}},
      "y2": {"field": "b3"},
      "fill": {"datum": "50-75", "type": "nominal", "scale": {"domain": ["0-25", "25-50", "50-75", "75-100"], "range": ["#d1d1fb", "#afaff9", "#9292f6", "#7575f3"]}, "legend": {"title": null, "orient": "top-right"}}}},
    {"mark": {"type": "area", "opacity": 1}, "encoding": {
      "x": {"field": "x", "type": "quantitative", "scale": {"domain": [0, 200000], "nice": false, "zero": false}, "axis": {"values": [0, 50000, 100000, 150000, 200000], "format": "d", "title": "Episodes"}},
      "y": {"field": "b3", "type": "quantitative", "scale": {"domain": [-150, 8861], "nice": false, "zero": false}, "axis": {"values": [0, 2000, 4000, 6000, 8000], "format": "d", "title": null}},
      "y2": {"field": "b4"},
      "fill": {"datum": "75-100", "type": "nominal", "scale": {"domain": ["0-25", "25-50", "50-75", "75-100"], "range": ["#d1d1fb", "#afaff9", "#9292f6", "#7575f3"]}, "legend": {"title": null, "orient": "top-right"}}}},
    {"mark": {"type": "line", "color": "#0000ff", "strokeWidth": 1.6}, "encoding": {
      "x": {"field": "x", "type": "quantitative", "scale": {"domain": [0, 200000], "nice": false, "zero": false}, "axis": {"values": [0, 50000, 100000, 150000, 200000], "format": "d", "title": "Episodes"}},
      "y": {"field": "m", "type": "quantitative", "scale": {"domain": [-150, 8861], "nice": false, "zero": false}, "axis": {"values": [0, 2000, 4000, 6000, 8000], "format": "d", "title": null}}}},
    {"data": {"name": "targets"}, "transform": [{"filter": "datum.env === 'Humanoid-v3'"}], "mark": {"type": "rule", "color": "#008000", "strokeDash": [3, 2], "strokeWidth": 1}, "encoding": {
      "y": {"field": "target", "type": "quantitative", "scale": {"domain": [-150, 8861], "nice": false, "zero": false}, "axis": {"values": [0, 2000, 4000, 6000, 8000], "format": "d", "title": null}}}}
   ]}
],
"columns": 3, "align": "none", "bounds": "flush",
"spacing": {"row": 41.5, "column": 60},
"resolve": {"scale": {"fill": "independent"}, "legend": {"fill": "independent"}}
}
